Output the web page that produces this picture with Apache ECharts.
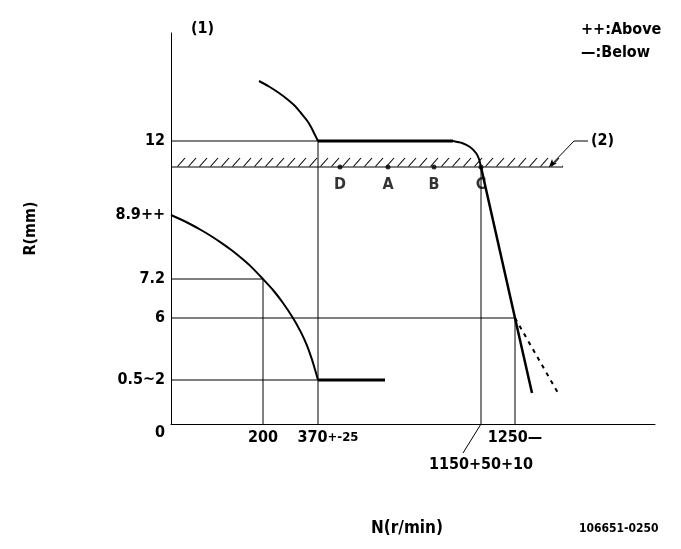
<!DOCTYPE html>
<html>
<head>
<meta charset="utf-8">
<script src="https://cdn.jsdelivr.net/npm/echarts@6/dist/echarts.min.js"></script>
<style>
html,body{margin:0;padding:0;background:#fff;}
#main{width:681px;height:549px;}
</style>
</head>
<body>
<div id="main"></div>
<script>
// Schematic diagram units (the drawing is not to scale): x 0..484, y 0..391
const xMax = 484, yMax = 391;
const yTickPos = [0, 44, 106, 145, 209, 283];
const yTickLabels = ['0', '0.5~2', '6', '7.2', '8.9++', '12'];
const xTickPos = [92, 147, 310, 344];
const xTickLabels = ['200', '370+-25', '1150+50+10', '1250—'];

const upperCurve = [[88,343],[98,337.5],[108,331],[116,325],[124,318],[130,311],[136,303.5],[140,297],[144,289],[147,283]];
const fullLoadFlat = [[147,283],[282,283]];
const roundOff = [[282,283],[291,281],[299,277],[305,271],[308,265],[310,257]];
const governorLine = [[310,257],[344,106],[361,31]];
const dashedLine = [[344,106],[387,31]];
const lowerCurve = [[0,209],[10,204.5],[20,199.5],[30,194],[40,188],[50,181.4],[60,174.2],[70,166.2],[80,157.4],[92,145],[102,134],[112,121],[122,106],[130,91.6],[136,78.4],[141,64.4],[144,54.5],[147,44]];
const idleFlat = [[147,44],[214,44]];

const bandLow = 257, bandHigh = 267, bandEnd = 392;
const pointNames = ['D', 'A', 'B', 'C'];
const pointX = [169, 217, 263, 310];

const guideLines = [
  [[0,283],[147,283]],
  [[0,257],[392,257]],
  [[0,145],[92,145]],
  [[92,0],[92,145]],
  [[0,106],[344,106]],
  [[344,0],[344,106]],
  [[0,44],[147,44]],
  [[147,0],[147,283]],
  [[310,0],[310,257]],
  [[310,0],[292,-29]]
];
const leader2 = [[378,257],[403,283],[417,283]];

const FONT = "'DejaVu Sans Condensed','Liberation Sans Narrow',sans-serif";

const hatch = document.createElement('canvas');
hatch.width = 11; hatch.height = 10;
(function(){
  const g = hatch.getContext('2d');
  g.strokeStyle = '#000'; g.lineWidth = 1.1;
  g.beginPath(); g.moveTo(0.5,9.5); g.lineTo(8,1); g.stroke();
})();

function lineSeries(data, width, extra) {
  return Object.assign({
    type: 'line', data: data, symbol: 'none', silent: true, clip: false,
    lineStyle: { color: '#000', width: width }, z: 3
  }, extra || {});
}

const series = [];
guideLines.forEach(seg => series.push(lineSeries(seg, 1)));
series.push(lineSeries(leader2.map((p, i) => i === 0
  ? { value: p, symbol: 'arrow', symbolSize: [5, 8], symbolRotate: 137, itemStyle: { color: '#000' } }
  : { value: p, symbol: 'none' }), 1, {
  showSymbol: true,
  endLabel: { show: true, formatter: '(2)', color: '#000', fontFamily: FONT, fontWeight: 'bold', fontSize: 16, distance: 3 }
}));
series.push(lineSeries(upperCurve, 2, { smooth: 0.3 }));
series.push(lineSeries(fullLoadFlat, 3));
series.push(lineSeries(roundOff, 2, { smooth: 0.2 }));
series.push(lineSeries(governorLine, 2.5));
series.push(lineSeries(dashedLine, 2, { lineStyle: { color: '#000', width: 2, type: [4, 5] } }));
series.push(lineSeries(lowerCurve, 2, { smooth: 0.3 }));
series.push(lineSeries(idleFlat, 3));
series.push({
  type: 'line', data: [], silent: true,
  markArea: {
    silent: true,
    itemStyle: { color: { image: hatch, repeat: 'repeat', x: 177, y: 157 }, borderWidth: 0 },
    data: [[{ coord: [4, bandLow] }, { coord: [bandEnd, bandHigh] }]]
  }
});
series.push({
  type: 'scatter', silent: true, symbol: 'circle', symbolSize: 5,
  itemStyle: { color: '#000' }, z: 5,
  data: pointX.map((x, i) => ({ value: [x, bandLow], name: pointNames[i] })),
  label: { show: true, position: 'bottom', distance: 7, formatter: p => p.name,
    color: '#000', fontFamily: FONT, fontWeight: 'bold', fontSize: 16 }
});

const chart = echarts.init(document.getElementById('main'), null, { renderer: 'canvas' });
chart.setOption({
  animation: false,
  backgroundColor: '#fff',
  grid: { left: 171, top: 33, width: 484, height: 391, containLabel: false },
  title: [
    { text: '(1)', left: 186, top: 16, textStyle: { fontFamily: FONT, fontWeight: 'bold', fontSize: 16, color: '#000' } },
    { text: '++:Above', left: 576, top: 17, textStyle: { fontFamily: FONT, fontWeight: 'bold', fontSize: 16, color: '#000' } },
    { text: '—:Below', left: 576, top: 40, textStyle: { fontFamily: FONT, fontWeight: 'bold', fontSize: 16, color: '#000' } },
    { text: 'N(r/min)', left: 366, top: 515, textStyle: { fontFamily: FONT, fontWeight: 'bold', fontSize: 17, color: '#000' } },
    { text: '106651-0250', left: 574, top: 518, textStyle: { fontFamily: FONT, fontWeight: 'bold', fontSize: 12, color: '#000' } }
  ],
  xAxis: {
    type: 'value', min: 0, max: xMax,
    axisLine: { show: true, lineStyle: { color: '#000', width: 1 } },
    axisTick: { show: false },
    splitLine: { show: false },
    axisLabel: {
      customValues: xTickPos,
      margin: 6,
      color: '#000', fontFamily: FONT, fontWeight: 'bold', fontSize: 16,
      formatter: v => {
        const i = xTickPos.indexOf(v);
        if (i < 0) return '';
        const t = xTickLabels[i];
        if (t.indexOf('370') === 0) return '{pad|}{a|370}{b|+-25}';
        if (t.indexOf('1150') === 0) return '{low|' + t + '}';
        return t;
      },
      rich: {
        pad: { width: 20 },
        a: { fontFamily: FONT, fontWeight: 'bold', fontSize: 16, color: '#000' },
        b: { fontFamily: FONT, fontWeight: 'bold', fontSize: 13, color: '#000' },
        low: { fontFamily: FONT, fontWeight: 'bold', fontSize: 16, color: '#000', padding: [27, 0, 0, 0] }
      }
    }
  },
  yAxis: {
    type: 'value', min: 0, max: yMax,
    name: 'R(mm)', nameLocation: 'middle', nameGap: 132, nameRotate: 90,
    nameTextStyle: { fontFamily: FONT, fontWeight: 'bold', fontSize: 16, color: '#000' },
    axisLine: { show: true, lineStyle: { color: '#000', width: 1 } },
    axisTick: { show: false },
    splitLine: { show: false },
    axisLabel: {
      customValues: yTickPos,
      margin: 6,
      color: '#000', fontFamily: FONT, fontWeight: 'bold', fontSize: 16,
      formatter: v => {
        const i = yTickPos.indexOf(v);
        if (i < 0) return '';
        if (v === 0) return '{zero|' + yTickLabels[i] + '}';
        return yTickLabels[i];
      },
      rich: {
        zero: { fontFamily: FONT, fontWeight: 'bold', fontSize: 16, color: '#000', padding: [18, 0, 0, 0] }
      }
    }
  },
  series: series
});
</script>
</body>
</html>
